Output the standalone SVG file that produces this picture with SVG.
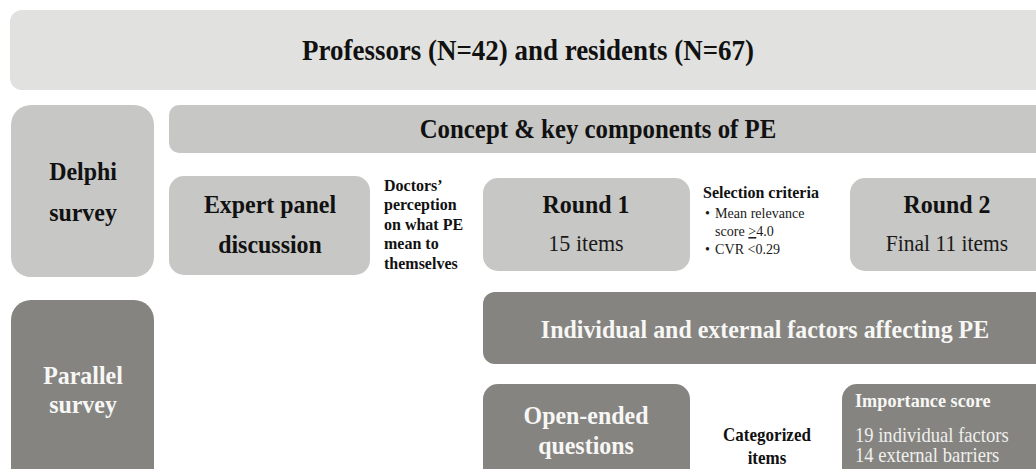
<svg xmlns="http://www.w3.org/2000/svg" width="1036" height="469" viewBox="0 0 1036 469" font-family="'Liberation Serif', 'Times New Roman', 'DejaVu Serif', serif">
<defs>
<style>
.lt { fill: #c7c7c5; }
.dk { fill: #858480; }
.top { fill: #e1e1df; }
.b { font-weight: bold; fill: #111; }
.w { font-weight: bold; fill: #f7f7f5; }
.r { fill: #1a1a1a; }
.rw { fill: #f0f0ee; }
.c { text-anchor: middle; }
</style>
</defs>
<rect width="1036" height="469" fill="#ffffff"/>
<g id="population">
<rect class="top" x="10" y="10" width="1040" height="80" rx="12"/>
<text class="b c" transform="translate(528 60) scale(0.92 1)" font-size="29.3">Professors (N=42) and residents (N=67)</text>
</g>
<g id="delphi">
<rect class="lt" x="11" y="105" width="143" height="172" rx="20"/>
<text class="b c" transform="translate(83 180) scale(0.92 1)" font-size="26">Delphi</text>
<text class="b c" transform="translate(83 221) scale(0.92 1)" font-size="26">survey</text>
</g>
<g id="concept">
<rect class="lt" x="169" y="105" width="880" height="48" rx="10"/>
<text class="b c" transform="translate(598 138) scale(0.92 1)" font-size="27">Concept &amp; key components of PE</text>
</g>
<g id="expert">
<rect class="lt" x="169" y="176" width="201" height="99" rx="15"/>
<text class="b c" transform="translate(270 213) scale(0.92 1)" font-size="26">Expert panel</text>
<text class="b c" transform="translate(270 253) scale(0.92 1)" font-size="26">discussion</text>
</g>
<g id="doctors">
<text class="b" transform="translate(384 0) scale(0.92 1)" font-size="17.4"><tspan x="0" y="191">Doctors’</tspan><tspan x="0" y="210.5">perception</tspan><tspan x="0" y="230">on what PE</tspan><tspan x="0" y="249.5">mean to</tspan><tspan x="0" y="269">themselves</tspan></text>
</g>
<g id="round1">
<rect class="lt" x="483" y="178" width="207" height="93" rx="15"/>
<text class="b c" transform="translate(586 213) scale(0.92 1)" font-size="26">Round 1</text>
<text class="r c" transform="translate(586 251) scale(0.92 1)" font-size="24">15 items</text>
</g>
<g id="criteria">
<text class="b" transform="translate(703 198) scale(0.92 1)" font-size="17.4">Selection criteria</text>
<text class="r" transform="translate(705 0) scale(0.92 1)" font-size="15.3"><tspan x="0" y="218">•</tspan><tspan x="11" y="218">Mean relevance</tspan><tspan x="11" y="236">score <tspan text-decoration="underline">&gt;</tspan>4.0</tspan><tspan x="0" y="254">•</tspan><tspan x="11" y="254">CVR &lt;0.29</tspan></text>
</g>
<g id="round2">
<rect class="lt" x="850" y="178" width="210" height="93" rx="15"/>
<text class="b c" transform="translate(947 213) scale(0.92 1)" font-size="26">Round 2</text>
<text class="r c" transform="translate(947 251) scale(0.92 1)" font-size="23.4">Final 11 items</text>
</g>
<g id="parallel">
<rect class="dk" x="11" y="300" width="143" height="190" rx="20"/>
<text class="w c" transform="translate(83 384) scale(0.92 1)" font-size="26">Parallel</text>
<text class="w c" transform="translate(83 413) scale(0.92 1)" font-size="26">survey</text>
</g>
<g id="factors">
<rect class="dk" x="483" y="292" width="570" height="72" rx="12"/>
<text class="w c" transform="translate(765 338) scale(0.92 1)" font-size="26">Individual and external factors affecting PE</text>
</g>
<g id="openended">
<rect class="dk" x="483" y="384" width="207" height="100" rx="15"/>
<text class="w c" transform="translate(586 424) scale(0.92 1)" font-size="26">Open-ended</text>
<text class="w c" transform="translate(586 454) scale(0.92 1)" font-size="26">questions</text>
</g>
<g id="categorized">
<text class="b c" transform="translate(767 441) scale(0.92 1)" font-size="18.5">Categorized</text>
<text class="b c" transform="translate(767 464) scale(0.92 1)" font-size="18.5">items</text>
</g>
<g id="importance">
<rect class="dk" x="842" y="384" width="210" height="100" rx="15"/>
<text class="w" transform="translate(855 407) scale(0.92 1)" font-size="19.8">Importance score</text>
<text class="rw" transform="translate(855 442) scale(0.92 1)" font-size="20.2">19 individual factors</text>
<text class="rw" transform="translate(855 462) scale(0.92 1)" font-size="20.2">14 external barriers</text>
</g>
<g id="connectors"></g>
</svg>
